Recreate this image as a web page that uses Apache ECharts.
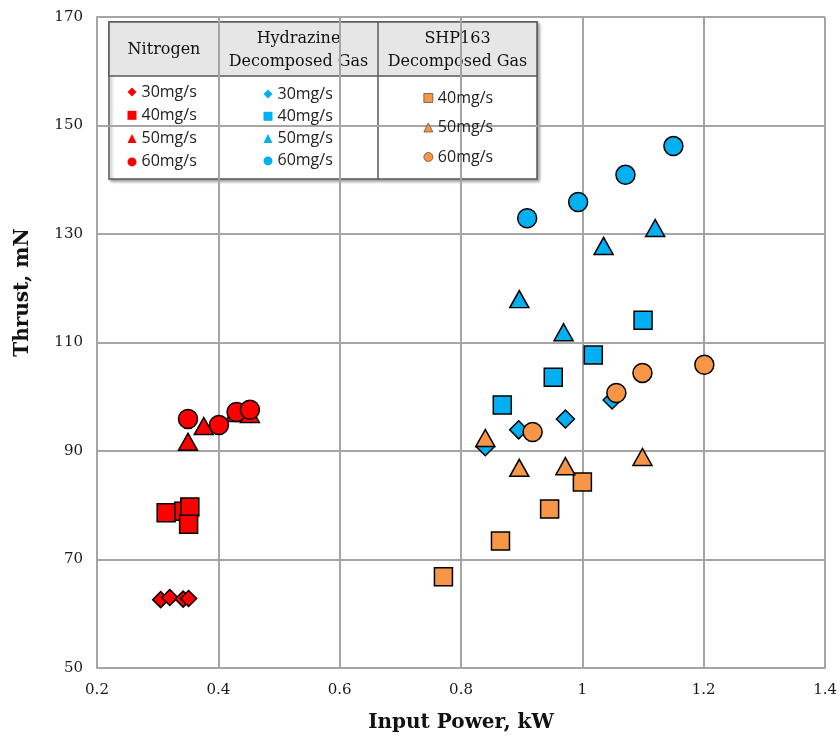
<!DOCTYPE html>
<html>
<head>
<meta charset="utf-8">
<script src="https://cdn.jsdelivr.net/npm/echarts@6/dist/echarts.min.js"></script>
<style>
  html, body { margin: 0; padding: 0; background: #fff; }
  #chart { width: 840px; height: 742px; }
</style>
</head>
<body>
<div id="chart"></div>
<script>
// [input power kW, thrust mN]
var nitrogen30 = [[0.305, 62.6], [0.320, 63.0], [0.342, 62.7], [0.351, 62.8]];
var nitrogen40 = [[0.314, 78.6], [0.343, 78.9], [0.353, 79.7], [0.351, 76.5]];
var nitrogen50 = [[0.350, 91.7], [0.376, 94.6], [0.428, 97.0], [0.452, 96.8]];
var nitrogen60 = [[0.350, 95.9], [0.401, 94.8], [0.430, 97.2], [0.452, 97.6]];

var hydrazine30 = [[0.840, 90.8], [0.895, 93.9], [0.972, 95.9], [1.049, 99.4]];
var hydrazine40 = [[0.868, 98.5], [0.952, 103.6], [1.018, 107.7], [1.100, 114.1]];
var hydrazine50 = [[0.896, 118.0], [0.969, 111.9], [1.035, 127.8], [1.120, 131.1]];
var hydrazine60 = [[0.909, 132.9], [0.993, 135.9], [1.071, 140.9], [1.150, 146.2]];

var shp40 = [[0.771, 66.8], [0.865, 73.4], [0.946, 79.3], [1.000, 84.3]];
var shp50 = [[0.840, 92.4], [0.896, 86.9], [0.972, 87.2], [1.099, 88.9]];
var shp60 = [[0.918, 93.5], [1.056, 100.7], [1.099, 104.4], [1.201, 105.9]];

var flowLabels = ['30mg/s', '40mg/s', '50mg/s', '60mg/s'];

var RED = '#FF0000', BLUE = '#00B0F0', ORANGE = '#F79646';
var SERIF = 'DejaVu Serif';

function pts(name, data, color, symbol, size) {
    return {
        name: name,
        type: 'scatter',
        data: data,
        symbol: symbol,
        symbolSize: size,
        itemStyle: { color: color, borderColor: '#000', borderWidth: 1.5, opacity: 1 }
    };
}

var chart = echarts.init(document.getElementById('chart'));

var series = [
    pts('Nitrogen ' + flowLabels[0], nitrogen30, RED, 'diamond', 16),
    pts('Nitrogen ' + flowLabels[1], nitrogen40, RED, 'rect', 18),
    pts('Nitrogen ' + flowLabels[2], nitrogen50, RED, 'triangle', [19, 17]),
    pts('Nitrogen ' + flowLabels[3], nitrogen60, RED, 'circle', 19),
    pts('Hydrazine ' + flowLabels[0], hydrazine30, BLUE, 'diamond', 18),
    pts('Hydrazine ' + flowLabels[1], hydrazine40, BLUE, 'rect', 18),
    pts('Hydrazine ' + flowLabels[2], hydrazine50, BLUE, 'triangle', [19, 17]),
    pts('Hydrazine ' + flowLabels[3], hydrazine60, BLUE, 'circle', 19),
    pts('SHP163 ' + flowLabels[1], shp40, ORANGE, 'rect', 18),
    pts('SHP163 ' + flowLabels[2], shp50, ORANGE, 'triangle', [19, 17]),
    pts('SHP163 ' + flowLabels[3], shp60, ORANGE, 'circle', 19)
];

function legendBlock(prefix, labels, left, top, gap, border) {
    return {
        orient: 'vertical',
        left: left,
        top: top,
        padding: 0,
        itemGap: gap,
        itemWidth: 9,
        itemHeight: 9,
        z: 10,
        selectedMode: false,
        data: labels.map(function (l) { return prefix + ' ' + l; }),
        formatter: function (n) { return n.replace(/^\S+ /, ''); },
        itemStyle: { borderWidth: border, borderColor: '#444' },
        textStyle: { fontFamily: 'Open Sans', fontSize: 16, color: '#222', lineHeight: 16 }
    };
}

var option = {
    animation: false,
    backgroundColor: '#fff',
    grid: { left: 97, right: 14, top: 17, bottom: 74 },
    xAxis: {
        type: 'value',
        min: 0.2,
        max: 1.4,
        interval: 0.2,
        name: 'Input Power, kW',
        nameLocation: 'middle',
        nameGap: 45,
        nameTextStyle: { fontFamily: SERIF, fontSize: 20, fontWeight: 'bold', color: '#111' },
        axisLine: { lineStyle: { color: '#A5A5A5', width: 2 } },
        axisTick: { show: false },
        axisLabel: { fontFamily: SERIF, fontSize: 15, color: '#1a1a1a', margin: 15 },
        splitLine: { show: true, lineStyle: { color: '#A5A5A5', width: 2 } }
    },
    yAxis: {
        type: 'value',
        min: 50,
        max: 170,
        interval: 20,
        name: 'Thrust, mN',
        nameLocation: 'middle',
        nameGap: 64,
        nameTextStyle: { fontFamily: SERIF, fontSize: 20, fontWeight: 'bold', color: '#111', padding: [0, 0, 0, 100] },
        axisLine: { show: true, lineStyle: { color: '#A5A5A5', width: 2 } },
        axisTick: { show: false },
        axisLabel: { fontFamily: SERIF, fontSize: 15, color: '#1a1a1a', margin: 14 },
        splitLine: { show: true, lineStyle: { color: '#A5A5A5', width: 2 } }
    },
    legend: [
        legendBlock('Nitrogen', flowLabels, 127.5, 84, 7.3, 0),
        legendBlock('Hydrazine', flowLabels, 263.5, 86, 6.3, 0),
        legendBlock('SHP163', flowLabels.slice(1), 423.5, 90, 13.5, 0.7)
    ],
    // table frame behind the legends
    graphic: [
        {
            type: 'group',
            z: 5,
            children: [
                { type: 'rect', shape: { x: 109, y: 22, width: 428, height: 157 },
                  style: { fill: '#fff', stroke: '#5a5a5a', lineWidth: 1.5,
                           shadowBlur: 3, shadowOffsetX: 2, shadowOffsetY: 2, shadowColor: 'rgba(0,0,0,0.35)' } },
                { type: 'rect', shape: { x: 109, y: 22, width: 428, height: 54 },
                  style: { fill: '#E6E6E6', stroke: '#5a5a5a', lineWidth: 1.5 } },
                { type: 'line', shape: { x1: 219, y1: 22, x2: 219, y2: 179 }, style: { stroke: '#5a5a5a', lineWidth: 1.5 } },
                { type: 'line', shape: { x1: 378, y1: 22, x2: 378, y2: 179 }, style: { stroke: '#5a5a5a', lineWidth: 1.5 } },
                { type: 'text', x: 164, y: 50,
                  style: { text: 'Nitrogen', fontFamily: SERIF, fontSize: 16, fill: '#111', align: 'center', verticalAlign: 'middle' } },
                { type: 'text', x: 298.5, y: 50.5,
                  style: { text: 'Hydrazine\nDecomposed Gas', fontFamily: SERIF, fontSize: 16, lineHeight: 23, fill: '#111', align: 'center', verticalAlign: 'middle' } },
                { type: 'text', x: 457.5, y: 50.5,
                  style: { text: 'SHP163\nDecomposed Gas', fontFamily: SERIF, fontSize: 16, lineHeight: 23, fill: '#111', align: 'center', verticalAlign: 'middle' } }
            ]
        }
    ],
    series: series
};

option && chart.setOption(option);
</script>
</body>
</html>
